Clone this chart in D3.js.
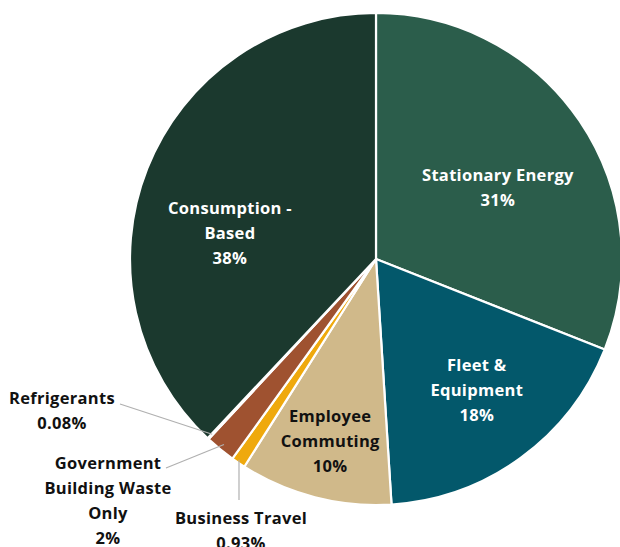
<!DOCTYPE html>
<html>
<head>
<meta charset="utf-8">
<script src="https://cdn.jsdelivr.net/npm/d3@7"></script>
<style>
  html, body { margin: 0; padding: 0; background: #ffffff; }
  svg { display: block; }
  text { font-family: "Open Sans", "Noto Sans", sans-serif; font-weight: 700; letter-spacing: 0.3px; }
</style>
</head>
<body>
<svg id="chart" width="620" height="547"></svg>
<script>
// Emission sources, clockwise from 12 o'clock
const categories = [
  "Stationary Energy",
  "Fleet & Equipment",
  "Employee Commuting",
  "Business Travel",
  "Government Building Waste Only",
  "Refrigerants",
  "Consumption - Based"
];
const shares = [31, 18, 10, 0.93, 2, 0.08, 38];
const shareLabels = ["31%", "18%", "10%", "0.93%", "2%", "0.08%", "38%"];
const colors = ["#2b5d4b", "#03586b", "#d0b98a", "#efa90d", "#9f5230", "#7a6a55", "#1b392e"];
// Label line breaks as drawn
const labelLines = [
  ["Stationary Energy"],
  ["Fleet &", "Equipment"],
  ["Employee", "Commuting"],
  ["Business Travel"],
  ["Government", "Building Waste", "Only"],
  ["Refrigerants"],
  ["Consumption -", "Based"]
];

const svg = d3.select("#chart");
const cx = 376, cy = 259, R = 246;
const g = svg.append("g").attr("transform", `translate(${cx},${cy})`);

const pie = d3.pie().value(d => d).sort(null);
const arcs = pie(shares);
const arc = d3.arc().innerRadius(0).outerRadius(R);

g.selectAll("path.slice")
  .data(arcs)
  .join("path")
  .attr("class", "slice")
  .attr("d", arc)
  .attr("fill", (d, i) => colors[i])
  .attr("stroke", "#ffffff")
  .attr("stroke-width", 2.2)
  .attr("stroke-linejoin", "round");

const lineH = 25;
const fs = 16.5;

// Inside labels: centroid at a fraction of the radius, nudged to sit clear of the slice edges
const inside = {
  0: { r: 0.55, dx: 10, dy: 5 },
  1: { r: 0.6, dx: 14, dy: 12 },
  2: { r: 0.75, dx: 0, dy: 4 },
  6: { r: 0.56, dx: -18, dy: 25 }
};
Object.keys(inside).forEach(k => {
  const i = +k;
  const a = arcs[i];
  const c = d3.arc().innerRadius(R * inside[i].r).outerRadius(R * inside[i].r).centroid(a);
  const px = c[0] + inside[i].dx, py = c[1] + inside[i].dy;
  const lines = labelLines[i].concat([shareLabels[i]]);
  const y0 = py - (lines.length - 1) * lineH / 2;
  const t = g.append("text")
    .attr("text-anchor", "middle")
    .attr("font-size", fs)
    .attr("fill", i === 2 ? "#111111" : "#ffffff");
  lines.forEach((s, j) => {
    t.append("tspan").attr("x", px).attr("y", y0 + j * lineH).attr("dy", "0.35em").text(s);
  });
});

// Outside labels for the thin slices, with grey leader lines
const outside = [
  { i: 5, x: 62, y: 398, start: [120, 404] },
  { i: 4, x: 108, y: 463, start: [166, 468] },
  { i: 3, x: 241, y: 518, start: [239, 500] }
];
outside.forEach(o => {
  const a = arcs[o.i];
  const mid = (a.startAngle + a.endAngle) / 2;
  const rr = o.i === 3 ? R * 0.985 : R * 0.975;
  const end = [cx + Math.sin(mid) * rr, cy - Math.cos(mid) * rr];
  const pts = o.i === 3 ? [o.start, [o.start[0], end[1]]] : [o.start, end];
  svg.append("polyline")
    .attr("points", pts.map(p => p.join(",")).join(" "))
    .attr("fill", "none")
    .attr("stroke", "#b0b0b0")
    .attr("stroke-width", 1.2);
  const lines = labelLines[o.i].concat([shareLabels[o.i]]);
  const t = svg.append("text")
    .attr("text-anchor", "middle")
    .attr("font-size", fs)
    .attr("fill", "#111111");
  lines.forEach((s, j) => {
    t.append("tspan").attr("x", o.x).attr("y", o.y + j * lineH).attr("dy", "0.35em").text(s);
  });
});
</script>
</body>
</html>
